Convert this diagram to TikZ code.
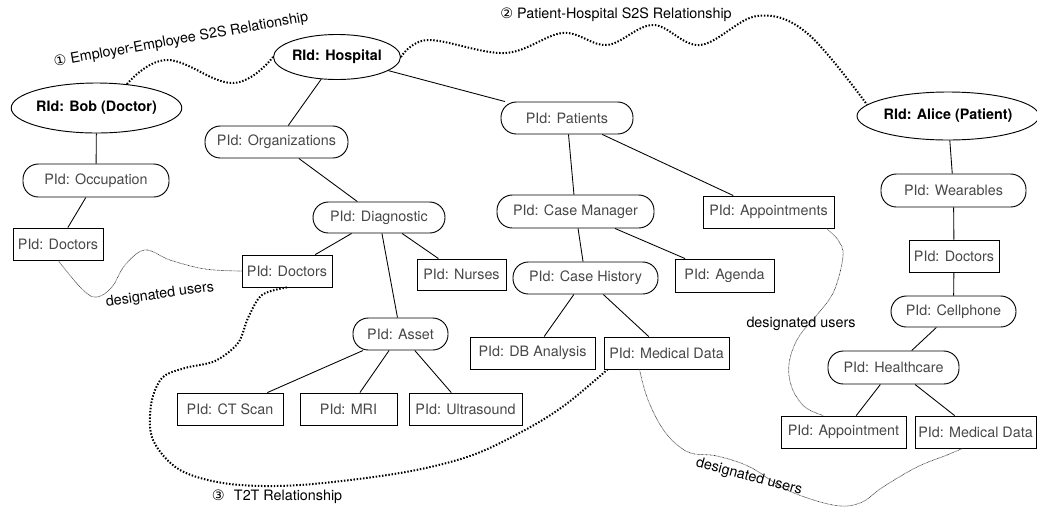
\documentclass[tikz,border=0pt]{standalone}
\usepackage{fontspec}
\setmainfont{TeX Gyre Heros}
\newfontfamily\circfont{DejaVu Sans}
\usetikzlibrary{shapes.geometric,calc}

\begin{document}
\begin{tikzpicture}[x=0.75pt,y=-0.75pt,
  font=\fontsize{10.75}{13}\selectfont,
  every node/.style={inner sep=0pt},
  wh/.style 2 args={minimum width=#1*0.75pt,minimum height=#2*0.75pt},
  root/.style={ellipse,draw,line width=0.7pt,font=\fontsize{10.75}{13}\selectfont\bfseries},
  pill/.style={rectangle,rounded corners=11.5pt,draw,line width=0.7pt,text=black!72},
  box/.style={rectangle,draw,line width=0.65pt,text=black!72},
  edge/.style={line width=0.65pt},
  rel/.style={line width=1.5pt,dash pattern=on 1.1pt off 1.3pt},
  desig/.style={line width=0.5pt,dash pattern=on 0.5pt off 0.5pt,black!80},
  lbl/.style={text=black}
]
\useasboundingbox (0,0) rectangle (1037,508);

% root identities
\node[root,wh={167}{50}] (bob)   at (96.5,108) {RId: Bob (Doctor)};
\node[root,wh={124}{45}] (hosp)  at (337,57)   {RId: Hospital};
\node[root,wh={176}{48}] (alice) at (948,116)  {RId: Alice (Patient)};

% Bob's branch
\node[pill,wh={146}{33}] (occ)  at (96,180.5) {PId: Occupation};
\node[box,wh={90}{32}]   (doc1) at (58,244)   {PId: Doctors};

% Hospital: organizations
\node[pill,wh={143}{32}] (org)   at (276.5,142) {PId: Organizations};
\node[pill,wh={132}{31}] (diag)  at (379,217.5) {PId: Diagnostic};
\node[box,wh={90}{32}]   (doc2)  at (287,271)   {PId: Doctors};
\node[box,wh={89}{31}]   (nurse) at (461.5,274.5) {PId: Nurses};
\node[pill,wh={95}{32}]  (asset) at (400.5,334) {PId: Asset};
\node[box,wh={106}{32}]  (ct)    at (230,409)   {PId: CT Scan};
\node[box,wh={97}{32}]   (mri)   at (348.5,409) {PId: MRI};
\node[box,wh={113}{32}]  (ultra) at (465.5,409) {PId: Ultrasound};

% Hospital: patients
\node[pill,wh={132}{32}] (pat)    at (567,118)     {PId: Patients};
\node[pill,wh={157}{33}] (cman)   at (575.5,211.5) {PId: Case Manager};
\node[box,wh={131}{32}]  (apts)   at (768.5,212)   {PId: Appointments};
\node[pill,wh={145}{32}] (chist)  at (585.5,278)   {PId: Case History};
\node[box,wh={99}{33}]   (agenda) at (724.5,275.5) {PId: Agenda};
\node[box,wh={125}{32}]  (db)     at (532.5,353)   {PId: DB Analysis};
\node[box,wh={125}{32}]  (med1)   at (666.5,353)   {PId: Medical Data};

% Alice's branch
\node[pill,wh={145}{33}] (wear)   at (953.5,190.5) {PId: Wearables};
\node[box,wh={90}{32}]   (doc3)   at (954,256)     {PId: Doctors};
\node[pill,wh={125}{31}] (cell)   at (953.5,311.5) {PId: Cellphone};
\node[pill,wh={131}{33}] (health) at (893.5,367.5) {PId: Healthcare};
\node[box,wh={125}{32}]  (appt)   at (843.5,432)   {PId: Appointment};
\node[box,wh={121}{32}]  (med2)   at (975.5,432)   {PId: Medical Data};

% tree edges
\foreach \a/\b in {bob/occ,occ/doc1,
                   hosp/org,hosp/pat,org/diag,diag/doc2,diag/nurse,diag/asset,
                   asset/ct,asset/mri,asset/ultra,
                   pat/cman,pat/apts,cman/chist,cman/agenda,chist/db,chist/med1,
                   alice/wear,wear/doc3,doc3/cell,cell/health,health/appt,health/med2}
  \draw[edge] (\a) -- (\b);

% relationships
\draw[rel] plot[smooth,tension=0.7] coordinates
  {(bob.38) (167,60) (233,83) (hosp.west)};
\draw[rel] plot[smooth,tension=0.6] coordinates
  {(hosp.east) (428,40) (505,53) (563,33) (607,45) (653,25) (700,45) (757,16) (807,33) (alice.172)};
\draw[rel] plot[smooth,tension=0.55] coordinates
  {(doc2.south) (262,295) (248,318) (238,343) (215,361) (185,368) (162,378) (151,405)
   (153,440) (180,470) (230,484) (300,485) (400,473) (470,456) (525,430) (565,405)
   ($(med1.south west)+(4,0)$)};

% designated users
\draw[desig] plot[smooth,tension=0.6] coordinates
  {(doc1.south) (83,290) (97,297) (112,287) (125,265) (145,250) (170,260) (205,269) (doc2.west)};
\draw[desig] plot[smooth,tension=0.6] coordinates
  {($(apts.south east)+(-8,0)$) (838,240) (843,256) (834,291) (817,315) (798,338)
   (789,364) (792,388) (805,407) ($(appt.north)+(-20,0)$)};
\draw[desig] plot[smooth,tension=0.6] coordinates
  {($(med1.south)+(-27,0)$) (648,400) (665,432) (688,452) (717,456) (750,467) (787,490)
   (833,505) (860,503) (883,487) (917,467) (947,455) ($(med2.south)+(-13,0)$)};

% labels
\node[lbl,rotate=10] (l1) at (181,40) {{\circfont ①} Employer-Employee S2S Relationship};
\node[lbl] (l2) at (616,15) {{\circfont ②} Patient-Hospital S2S Relationship};
\node[lbl] (l3) at (277,497) {{\circfont ③}\hspace{4pt} T2T Relationship};
\node[lbl,rotate=8]   (d1) at (160,295) {designated users};
\node[lbl]            (d2) at (801,324) {designated users};
\node[lbl,rotate=-15] (d3) at (749,477) {designated users};
\end{tikzpicture}
\end{document}
